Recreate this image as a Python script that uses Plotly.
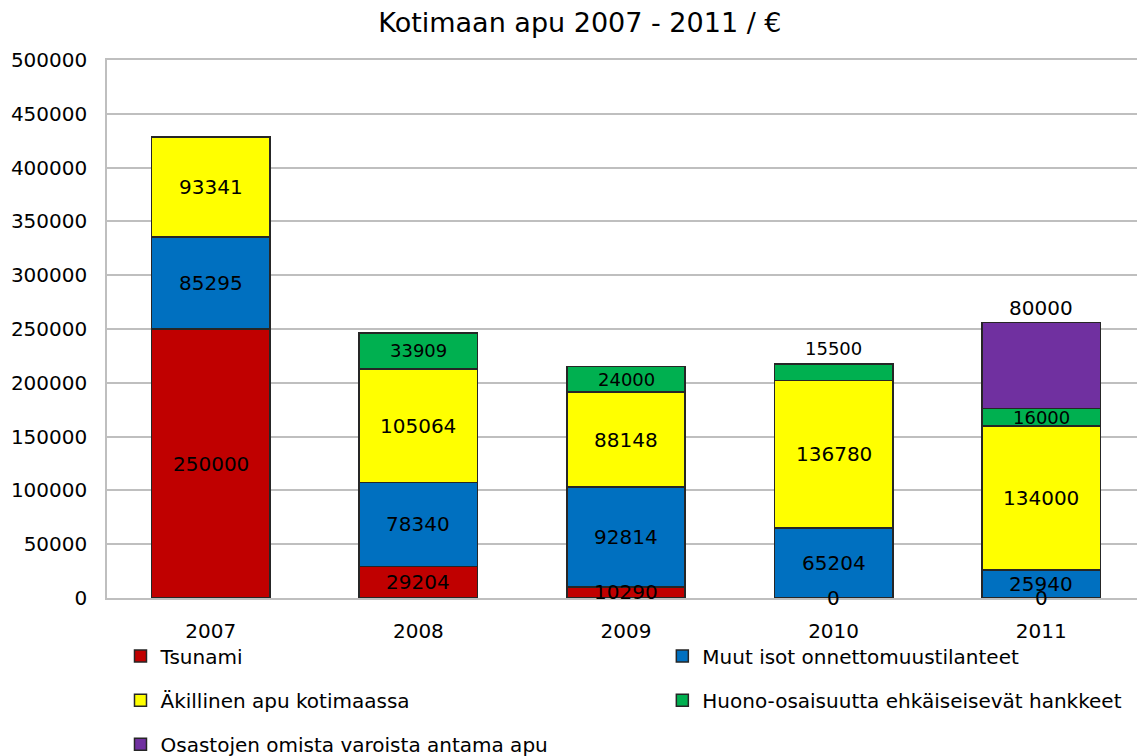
import plotly.graph_objects as go

# data
years = ["2007", "2008", "2009", "2010", "2011"]
tsunami = [250000, 29204, 10290, 0, 0]
muut = [85295, 78340, 92814, 65204, 25940]
akillinen = [93341, 105064, 88148, 136780, 134000]
huono = [None, 33909, 24000, 15500, 16000]
osastojen = [None, None, None, None, 80000]

series = [
    ("Tsunami", tsunami, "#C00000"),
    ("Muut isot onnettomuustilanteet", muut, "#0070C0"),
    ("Äkillinen apu kotimaassa", akillinen, "#FFFF00"),
    ("Huono-osaisuutta ehkäiseisevät hankkeet", huono, "#00B050"),
    ("Osastojen omista varoista antama apu", osastojen, "#7030A0"),
]
# one legend per entry, laid out in two columns (paper x, paper y)
legend_pos = [(0.013, -0.108), (0.535, -0.108),
              (0.013, -0.19), (0.535, -0.19),
              (0.013, -0.272)]

# labels drawn above the bar instead of in the middle of the segment
outside_labels = {(3, "2010"), (4, "2011")}
small_labels = {3}

FONT = "DejaVu Sans, Verdana, sans-serif"

fig = go.Figure()
base = [0] * len(years)
annotations = []
legends = {}
for i, (name, vals, color) in enumerate(series):
    lname = "legend" if i == 0 else f"legend{i + 1}"
    fig.add_trace(go.Bar(
        x=years, y=vals, name=name, showlegend=True,
        marker=dict(color=color, line=dict(color="#262626", width=1.5)),
        legend=lname,
    ))
    lx, ly = legend_pos[i]
    legends[lname] = dict(orientation="h", x=lx, y=ly, xanchor="left", yanchor="middle",
                          font=dict(family=FONT, size=20, color="black"),
                          bgcolor="rgba(0,0,0,0)")
    for j, v in enumerate(vals):
        if v is None:
            continue
        if (i, years[j]) in outside_labels:
            y, shift = base[j] + v, 15
        else:
            y, shift = base[j] + v / 2, 0
        # x given as category index so "2007" is not read as a number
        annotations.append(dict(
            x=j, y=y, text=str(v), showarrow=False, yshift=shift,
            font=dict(family=FONT, size=18 if i in small_labels else 20, color="black"),
        ))
        base[j] += v

# page body has an 8px margin, so the figure is sized to fit the window
fig.update_layout(
    barmode="stack",
    bargap=0.43,
    showlegend=True,
    width=1137, height=748,
    margin=dict(l=99, r=0, t=52, b=158, autoexpand=False),
    paper_bgcolor="white", plot_bgcolor="white",
    title=dict(text="Kotimaan apu 2007 - 2011 / €", x=0.503, xanchor="center",
               y=0.981, yanchor="middle",
               font=dict(family=FONT, size=27, color="black")),
    annotations=annotations,
    xaxis=dict(type="category", showline=True, mirror=True,
               linecolor="#BFBFBF", linewidth=1.5,
               tickfont=dict(family=FONT, size=20, color="black"),
               ticklabelstandoff=14),
    yaxis=dict(range=[0, 500000], dtick=50000, tickformat="d",
               showgrid=True, gridcolor="#BFBFBF", gridwidth=1.5,
               showline=True, linecolor="#BFBFBF", linewidth=1.5,
               zeroline=False,
               tickfont=dict(family=FONT, size=20, color="black"),
               ticklabelstandoff=14),
    **legends,
)

fig.write_html("out.html")
